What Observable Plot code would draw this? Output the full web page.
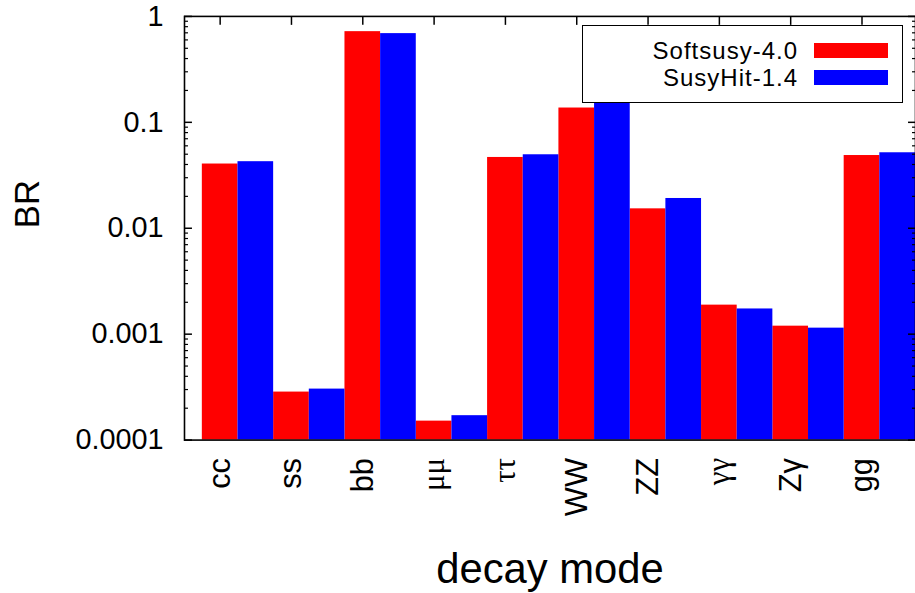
<!DOCTYPE html>
<html>
<head>
<meta charset="utf-8">
<script src="https://cdn.jsdelivr.net/npm/d3@7"></script>
<script src="https://cdn.jsdelivr.net/npm/@observablehq/plot@0.6"></script>
<style>
  html, body { margin: 0; padding: 0; background: #fff; overflow: hidden; }
  #wrap { position: relative; width: 915px; height: 593px; overflow: hidden; font-family: "Liberation Sans", Arial, sans-serif; }
  #chart { position: absolute; left: 0; top: 0; }
  .legend-box { position: absolute; left: 582px; top: 25px; width: 319px; height: 76px; border: 1.5px solid #000; background: #fff; box-sizing: content-box; }
  .legend-text { position: absolute; left: 582px; width: 216px; text-align: right; font-size: 24px; letter-spacing: 1px; line-height: 23px; color: #000; white-space: nowrap; }
  .legend-swatch { position: absolute; left: 814px; width: 74px; height: 15px; }
</style>
</head>
<body>
<div id="wrap"><div id="chart"></div></div>
<script>
const categories = ["cc", "ss", "bb", "μμ", "ττ", "WW", "ZZ", "γγ", "Zγ", "gg"];
const greekLabels = ["μμ", "ττ", "γγ"];
const softsusy = [0.0404, 2.84e-4, 0.718, 1.51e-4, 0.0466, 0.1365, 0.01525, 1.88e-3, 1.19e-3, 0.0486];
const susyhit  = [0.0425, 3.03e-4, 0.688, 1.70e-4, 0.0494, 0.1555, 0.0191, 1.73e-3, 1.14e-3, 0.0516];
const seriesNames = ["Softsusy-4.0", "SusyHit-1.4"];
const seriesColors = ["#ff0000", "#0000ff"];
const yTicks = [1e-4, 1e-3, 1e-2, 0.1, 1];
const yTickLabels = ["0.0001", "0.001", "0.01", "0.1", "1"];
const minorMultipliers = [2, 3, 4, 5, 6, 7, 8, 9];

const minorTicks = yTicks.slice(0, -1).flatMap(d => minorMultipliers.map(k => k * d));
const idx = categories.map((c, i) => i);
const latinIdx = idx.filter(i => !greekLabels.includes(categories[i]));
const greekIdx = idx.filter(i => greekLabels.includes(categories[i]));
const redRows = categories.map((c, i) => ({i, v: softsusy[i]}));
const blueRows = categories.map((c, i) => ({i, v: susyhit[i]}));
const font = "Liberation Sans, Arial, sans-serif";

const chart = Plot.plot({
  width: 920,
  height: 593,
  marginLeft: 185,
  marginRight: 0,
  marginTop: 16,
  marginBottom: 151,
  style: {fontFamily: font, color: "#000", background: "#fff", overflow: "visible"},
  x: {type: "linear", domain: [-0.5, 9.75], label: null},
  y: {type: "log", domain: [1e-4, 1], label: null},
  marks: [
    Plot.rectY(redRows, {x1: d => d.i - 0.25, x2: d => d.i + 0.25, y1: 1e-4, y2: "v", fill: seriesColors[0]}),
    Plot.rectY(blueRows, {x1: d => d.i + 0.25, x2: d => d.i + 0.75, y1: 1e-4, y2: "v", fill: seriesColors[1]}),
    Plot.frame({stroke: "#000", strokeWidth: 1.6}),
    Plot.axisY(yTicks, {anchor: "left", tickSize: 0, tickPadding: 21, fontSize: 29, tickFormat: d => yTickLabels[yTicks.indexOf(d)], label: null}),
    Plot.axisY(yTicks, {anchor: "left", tickSize: -8, strokeWidth: 1.5, tickFormat: () => "", label: null}),
    Plot.axisY(minorTicks, {anchor: "left", tickSize: -4, strokeWidth: 1.2, tickFormat: () => "", label: null}),
    Plot.axisY(yTicks, {anchor: "right", tickSize: -8, strokeWidth: 1.5, tickFormat: () => "", label: null}),
    Plot.axisY(minorTicks, {anchor: "right", tickSize: -4, strokeWidth: 1.2, tickFormat: () => "", label: null}),
    Plot.axisX(idx, {anchor: "top", tickSize: -8, strokeWidth: 1.5, tickFormat: () => "", label: null}),
    Plot.axisX(latinIdx, {anchor: "bottom", tickSize: 0, tickPadding: 18, tickRotate: -90, fontSize: 31, tickFormat: i => categories[i], label: null}),
    Plot.axisX(greekIdx, {anchor: "bottom", tickSize: 0, tickPadding: 18, tickRotate: -90, fontSize: 31, fontFamily: "Liberation Serif, DejaVu Serif, serif", tickFormat: i => categories[i], label: null}),
    Plot.text(["BR"], {frameAnchor: "left", text: d => d, rotate: -90, dx: -157, fontSize: 35, fill: "#000"}),
    Plot.text(["decay mode"], {frameAnchor: "bottom", text: d => d, lineAnchor: "middle", dy: 130, fontSize: 42, fill: "#000"})
  ]
});
document.getElementById("chart").appendChild(chart);

// legend (inside plot area, top-right)
const wrap = document.getElementById("wrap");
const box = document.createElement("div");
box.className = "legend-box";
wrap.appendChild(box);
seriesNames.forEach((name, i) => {
  const t = document.createElement("div");
  t.className = "legend-text";
  t.style.top = (38.7 + 27 * i) + "px";
  t.textContent = name;
  wrap.appendChild(t);
  const s = document.createElement("div");
  s.className = "legend-swatch";
  s.style.top = (43 + 26.5 * i) + "px";
  s.style.background = seriesColors[i];
  wrap.appendChild(s);
});
</script>
</body>
</html>
